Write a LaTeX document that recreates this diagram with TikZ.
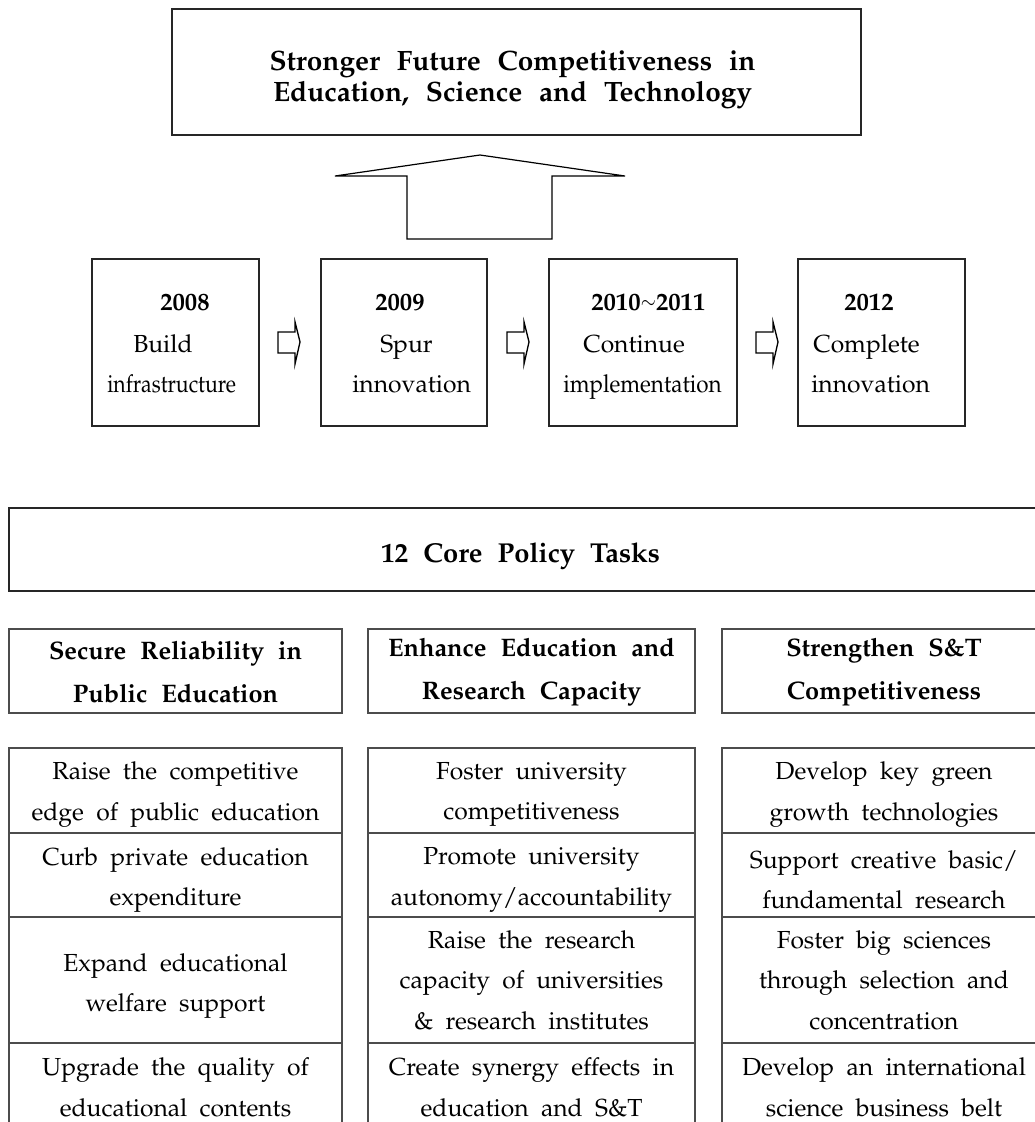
\documentclass[tikz,border=0pt]{standalone}
\usepackage[T1]{fontenc}
\usepackage{mathpazo}
\usetikzlibrary{fit,calc}
\newcommand\tabfont{\fontsize{18.5}{30.4}\selectfont\spaceskip=0.5em plus 0.1em\relax}
\newcommand\headfont{\bfseries\fontsize{19}{32.3}\selectfont\spaceskip=0.55em plus 0.1em\relax}
\newcommand\goalfont{\bfseries\fontsize{21}{23.3}\selectfont\spaceskip=0.6em plus 0.1em\relax}
\newcommand\corefont{\bfseries\fontsize{20.5}{22}\selectfont\spaceskip=0.55em plus 0.1em\relax}
\newcommand\yrfont{\fontsize{18.5}{30}\selectfont}
\newcommand\yrbfont{\bfseries\fontsize{18.5}{30}\selectfont}
\newcommand\tcell[7]{%
  \node[cell, fit={(#2,#3) (#4,#5)}] (#1) {};
  \node[celltxt] (#1t) at ($(#1.center)+(0,#6)$) {#7};}
\begin{document}
\begin{tikzpicture}[x=0.75pt,y=-0.75pt,
  box/.style={draw=black!85, line width=1pt, inner sep=0pt},
  cell/.style={draw=black!70, line width=0.8pt, inner sep=0pt},
  celltxt/.style={inner sep=0pt, align=center, font=\tabfont},
  headbox/.style={draw=black!70, line width=0.8pt, inner sep=0pt},
  headtxt/.style={inner sep=0pt, align=center, font=\headfont},
  yrtxt/.style={anchor=base west, inner sep=0pt, font=\yrfont},
  yrbold/.style={anchor=base west, inner sep=0pt, font=\yrbfont},
  blockarrow/.style={draw=black, line width=1pt, line join=miter, fill=white}]
\useasboundingbox (0,0) rectangle (1035,1122);
\clip (0,0) rectangle (1035,1122);

% goal box
\node[box, fit={(172,9) (861,135)}] (goal) {};
\node[align=center, font=\goalfont, inner sep=0pt] (goaltxt) at ($(goal.center)+(-4,8)$)
  {Stronger Future Competitiveness in\\Education, Science and Technology};

% big up arrow
\draw[line width=0.9pt, line join=miter] (480,155) -- (625,176) -- (552,176) -- (552,239)
  -- (407,239) -- (407,176) -- (335,176) -- cycle;

% year boxes
\node[box, fit={(92,259) (259,426)}] (y1) {};
\node[box, fit={(321,259) (487,426)}] (y2) {};
\node[box, fit={(549,259) (737,426)}] (y3) {};
\node[box, fit={(798,259) (965,426)}] (y4) {};

\node[yrbold] (y1a) at (160,310) {2008};
\node[yrtxt] (y1b) at (133,352) {Build};
\node[yrtxt] (y1c) at (107,392) {\scalebox{0.86}[1]{infrastructure}};
\node[yrbold] (y2a) at (375,310) {2009};
\node[yrtxt] (y2b) at (380,352) {Spur};
\node[yrtxt] (y2c) at (352,392) {innovation};
\node[yrbold] (y3a) at (591,310) {2010\raisebox{0.08em}{\scalebox{0.75}[0.85]{$\sim$}}2011};
\node[yrtxt] (y3b) at (583,352) {Continue};
\node[yrtxt] (y3c) at (563,392) {\scalebox{0.91}[1]{implementation}};
\node[yrbold] (y4a) at (844,310) {2012};
\node[yrtxt] (y4b) at (813,352) {Complete};
\node[yrtxt] (y4c) at (811,392) {innovation};

% small block arrows
\foreach \x in {278,507,756}{
  \draw[blockarrow] (\x,332) -- (\x+17,332) -- (\x+17,322) -- (\x+22,342) -- (\x+17,364)
    -- (\x+17,353) -- (\x,353) -- cycle;
}

% core tasks
\node[box, fit={(9,508) (1040,591)}] (core) {};
\node[font=\corefont, inner sep=0pt] (coretxt) at ($(core.center)+(-4,7)$) {12 Core Policy Tasks};

% column headers
\node[headbox, fit={(9,629) (342,713)}] (hA) {};
\node[headtxt] (hAt) at ($(hA.center)+(0,1)$) {Secure Reliability in\\Public Education};
\node[headbox, fit={(368,629) (695,713)}] (hB) {};
\node[headtxt] (hBt) at ($(hB.center)+(0,1)$) {Enhance Education and\\Research Capacity};
\node[headbox, fit={(722,629) (1046,713)}] (hC) {};
\node[headtxt] (hCt) at ($(hC.center)+(0,1)$) {Strengthen S\&T\\Competitiveness};

% column A
\tcell{a1}{9}{748}{342}{833}{4}{Raise the competitive\\edge of public education}
\tcell{a2}{9}{833}{342}{917}{5}{Curb private education\\expenditure}
\tcell{a3}{9}{917}{342}{1043}{6}{Expand educational\\welfare support}
\tcell{a4}{9}{1043}{342}{1128}{2}{Upgrade the quality of\\educational contents}
% column B
\tcell{b1}{368}{748}{695}{833}{4}{Foster university\\competitiveness}
\tcell{b2}{368}{833}{695}{917}{5}{Promote university\\autonomy/accountability}
\tcell{b3}{368}{917}{695}{1043}{0}{Raise the research\\capacity of universities\\\& research institutes}
\tcell{b4}{368}{1043}{695}{1128}{2}{Create synergy effects in\\education and S\&T}
% column C
\tcell{c1}{722}{748}{1046}{833}{4}{Develop key green\\growth technologies}
\tcell{c2}{722}{833}{1046}{917}{5}{Support creative basic/\\fundamental research}
\tcell{c3}{722}{917}{1046}{1043}{0}{Foster big sciences\\through selection and\\concentration}
\tcell{c4}{722}{1043}{1046}{1128}{2}{Develop an international\\science business belt}
\end{tikzpicture}
\end{document}
